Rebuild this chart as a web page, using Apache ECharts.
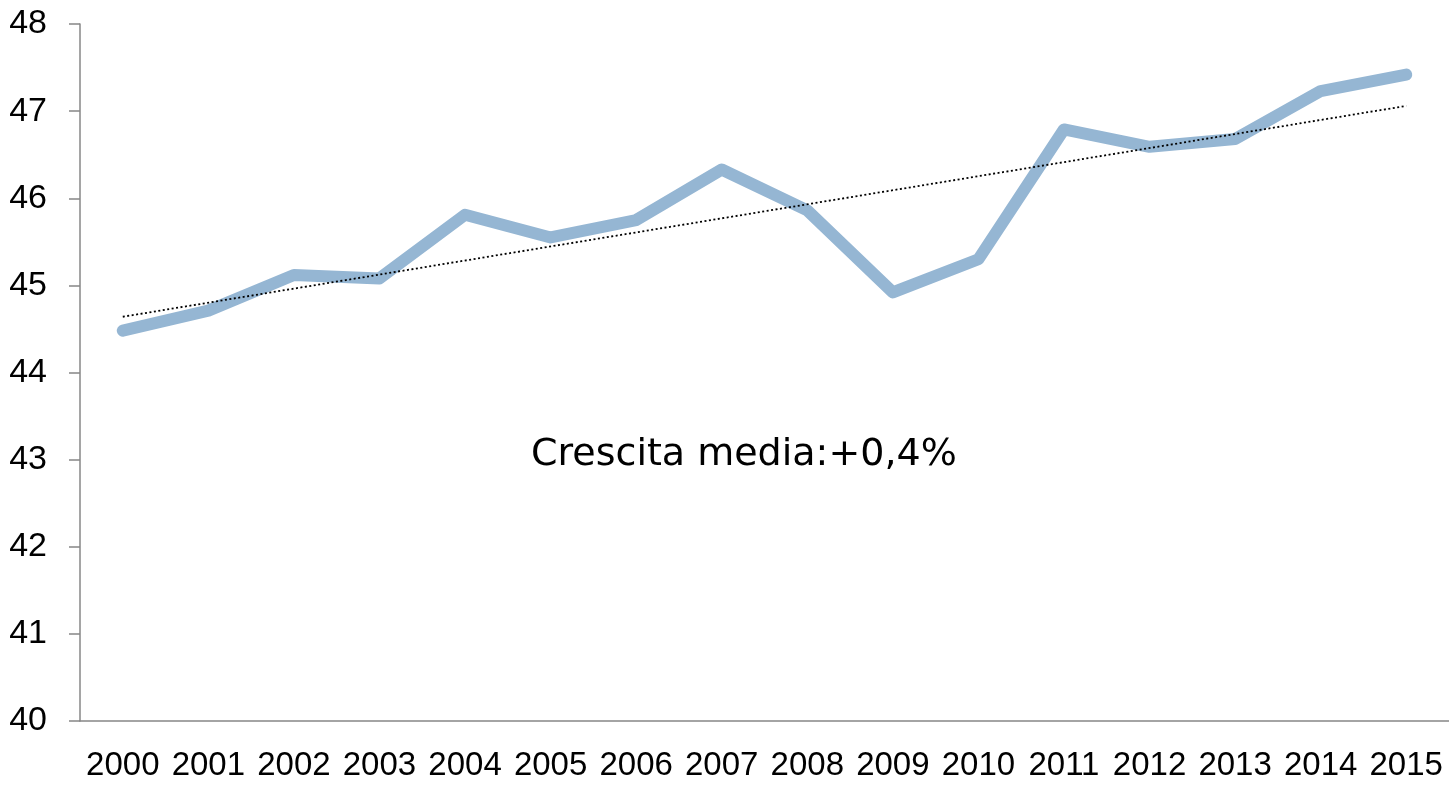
<!DOCTYPE html>
<html>
<head>
<meta charset="utf-8">
<script src="https://cdn.jsdelivr.net/npm/echarts@6/dist/echarts.min.js"></script>
<style>
  html, body { margin: 0; padding: 0; background: #fff; }
  #chart { width: 1449px; height: 785px; }
</style>
</head>
<body>
<div id="chart"></div>
<script>
// anni sull'asse x
const years = ['2000', '2001', '2002', '2003', '2004', '2005', '2006', '2007',
  '2008', '2009', '2010', '2011', '2012', '2013', '2014', '2015']
// valori della serie
const values = [44.48, 44.71, 45.12, 45.08, 45.81, 45.55, 45.75, 46.33,
  45.86, 44.92, 45.3, 46.79, 46.59, 46.68, 47.23, 47.42]
// linea di tendenza (solo estremi)
const trendStart = 44.64
const trendEnd = 47.06
const annotation = 'Crescita media:+0,4%'

const trend = years.map((y, i) => {
  if (i === 0) return trendStart
  if (i === years.length - 1) return trendEnd
  return null
})

const axisFont = "'Liberation Sans', Arial, sans-serif"

const myChart = echarts.init(document.getElementById('chart'))

const option = {
  animation: false,
  grid: { left: 80, right: 0, top: 24, bottom: 64 },
  xAxis: {
    type: 'category',
    data: years,
    boundaryGap: true,
    axisLine: { lineStyle: { color: '#878787', width: 1.5 } },
    axisTick: { length: 11, lineStyle: { color: '#878787', width: 1.5 } },
    axisLabel: { color: '#000', fontSize: 33, fontFamily: axisFont, margin: 28, interval: 0 }
  },
  yAxis: {
    type: 'value',
    min: 40,
    max: 48,
    interval: 1,
    splitLine: { show: false },
    axisLine: { show: true, lineStyle: { color: '#878787', width: 1.5 } },
    axisTick: { show: true, length: 11, lineStyle: { color: '#878787', width: 1.5 } },
    axisLabel: { color: '#000', fontSize: 34, fontFamily: axisFont, margin: 33 }
  },
  series: [
    {
      type: 'line',
      data: values,
      symbol: 'none',
      lineStyle: { color: '#95b6d3', width: 12, cap: 'round', join: 'round' },
      z: 2
    },
    {
      type: 'line',
      data: trend,
      connectNulls: true,
      symbol: 'none',
      lineStyle: { color: '#000', width: 1.8, type: [2, 2.5] },
      z: 3
    }
  ],
  graphic: [
    {
      type: 'text',
      left: 531,
      top: 436,
      style: {
        text: annotation,
        fill: '#000',
        font: "38px 'DejaVu Sans', sans-serif"
      }
    }
  ]
}

myChart.setOption(option)
</script>
</body>
</html>
